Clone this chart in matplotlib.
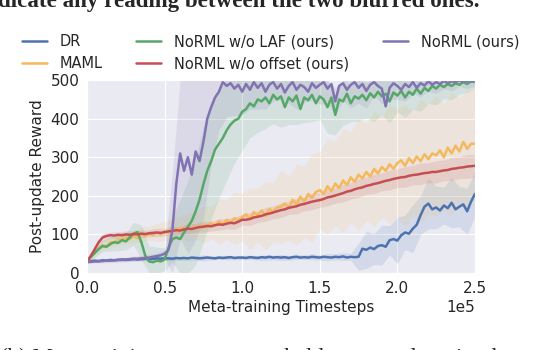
import numpy as np
import matplotlib
matplotlib.use("Agg")
import matplotlib.pyplot as plt
import seaborn as sns

# mean curves, one point every 2500 timesteps (0 .. 2.5e5)
dr = [30, 31, 32, 31, 33, 32, 34, 33, 34, 35,
      34, 35, 36, 35, 36, 37, 36, 37, 38, 37,
      38, 38, 37, 39, 38, 39, 38, 40, 39, 38,
      39, 40, 39, 38, 40, 39, 40, 41, 39, 40,
      40, 39, 41, 40, 39, 41, 40, 42, 40, 41,
      40, 41, 39, 41, 42, 40, 41, 40, 42, 41,
      40, 42, 41, 40, 42, 41, 43, 40, 42, 41,
      42, 63, 60, 66, 62, 70, 72, 68, 85, 88,
      84, 98, 105, 102, 115, 125, 150, 172, 180, 165,
      170, 162, 175, 168, 182, 165, 172, 178, 160, 185,
      205]
maml = [30, 42, 55, 62, 72, 68, 80, 78, 88, 85,
        92, 88, 95, 90, 100, 96, 103, 98, 105, 100,
        108, 104, 114, 106, 118, 110, 120, 113, 122, 116,
        126, 119, 130, 123, 134, 127, 138, 131, 142, 136,
        145, 152, 140, 158, 150, 162, 148, 166, 158, 170,
        172, 180, 168, 190, 178, 198, 185, 205, 195, 210,
        215, 205, 225, 212, 232, 220, 240, 228, 248, 236,
        255, 245, 262, 250, 270, 258, 275, 265, 282, 270,
        285, 292, 278, 298, 285, 302, 290, 308, 295, 310,
        305, 318, 300, 325, 310, 330, 315, 340, 322, 335,
        335]
no_laf = [30, 42, 52, 62, 70, 68, 75, 80, 78, 85,
          82, 92, 102, 106, 80, 45, 30, 28, 32, 30,
          35, 65, 88, 92, 88, 105, 120, 135, 160, 190,
          230, 265, 290, 320, 335, 350, 370, 385, 395, 400,
          418, 425, 440, 432, 450, 445, 455, 440, 462, 450,
          458, 430, 455, 445, 460, 425, 455, 448, 462, 440,
          458, 450, 430, 455, 410, 450, 445, 465, 440, 458,
          452, 462, 448, 466, 455, 470, 458, 465, 445, 468,
          460, 472, 455, 470, 462, 478, 465, 480, 472, 485,
          478, 488, 482, 490, 485, 492, 488, 495, 490, 497,
          495]
no_offset = [30, 45, 62, 80, 92, 96, 98, 97, 99, 98,
             100, 99, 101, 100, 102, 101, 103, 104, 105, 104,
             106, 108, 109, 111, 110, 113, 115, 114, 117, 119,
             120, 122, 121, 124, 126, 125, 128, 130, 129, 133,
             138, 138, 140, 144, 146, 148, 152, 154, 157, 160,
             163, 165, 169, 171, 173, 177, 179, 182, 185, 187,
             189, 192, 196, 198, 201, 204, 207, 211, 213, 217,
             220, 222, 226, 228, 231, 233, 236, 239, 241, 244,
             246, 248, 249, 252, 254, 255, 257, 259, 260, 262,
             262, 264, 266, 267, 270, 271, 273, 274, 276, 277,
             278]
norml = [28, 29, 30, 30, 31, 32, 32, 33, 34, 34,
         35, 36, 37, 37, 38, 39, 40, 42, 44, 46,
         50, 60, 110, 230, 310, 265, 300, 255, 315, 290,
         340, 400, 430, 455, 470, 495, 485, 492, 478, 488,
         470, 490, 475, 495, 480, 492, 470, 488, 495, 478,
         490, 468, 485, 495, 475, 488, 482, 470, 492, 480,
         488, 495, 478, 490, 445, 485, 492, 475, 488, 495,
         480, 490, 472, 488, 495, 485, 478, 432, 480, 492,
         485, 475, 490, 482, 495, 480, 492, 486, 497, 488,
         495, 490, 498, 492, 497, 495, 499, 496, 498, 497,
         499]

# spread of the shaded bands, one value every 5000 timesteps
dr_sd = [2, 3, 3, 3, 4, 4, 4, 4, 4, 5,
         5, 5, 5, 5, 6, 8, 5, 5, 6, 5,
         6, 5, 6, 7, 6, 8, 6, 7, 6, 8,
         7, 9, 8, 10, 9, 35, 48, 40, 52, 38,
         60, 45, 62, 50, 66, 55, 48, 65, 52, 60, 58]
maml_sd = [3, 10, 12, 14, 15, 15, 16, 20, 18, 24,
           25, 30, 27, 38, 33, 48, 42, 58, 52, 68,
           62, 80, 70, 88, 76, 95, 84, 105, 92, 115,
           100, 125, 108, 135, 118, 145, 125, 150, 132, 155,
           140, 158, 135, 160, 142, 155, 138, 158, 140, 150, 145]
no_laf_sd = [5, 12, 15, 18, 20, 22, 30, 45, 40, 35,
             30, 60, 100, 120, 140, 150, 150, 140, 130, 110,
             100, 90, 85, 80, 75, 80, 70, 75, 65, 70,
             60, 68, 52, 62, 48, 58, 46, 62, 48, 56,
             42, 52, 38, 46, 33, 42, 30, 36, 24, 22, 15]
no_offset_sd = [3, 8, 10, 8, 8, 9, 8, 10, 9, 11,
                10, 12, 10, 13, 11, 14, 12, 15, 13, 16,
                14, 17, 15, 18, 16, 19, 17, 20, 18, 21,
                19, 22, 20, 23, 21, 24, 22, 25, 23, 26,
                24, 27, 25, 28, 26, 29, 27, 30, 28, 31, 29]
norml_sd = [3, 4, 5, 5, 6, 6, 7, 7, 8, 8,
            10, 150, 220, 250, 230, 200, 150, 100, 80, 70,
            60, 50, 55, 45, 50, 40, 45, 50, 40, 45,
            50, 40, 35, 45, 60, 40, 45, 35, 40, 30,
            35, 45, 30, 35, 25, 30, 20, 25, 15, 20, 15]

labels = ["DR", "MAML", "NoRML w/o LAF (ours)", "NoRML w/o offset (ours)", "NoRML (ours)"]
colors = ["#4C72B0", "#F5B95C", "#55A868", "#C44E52", "#8172B2"]

sns.set_style("darkgrid")
plt.rcParams['font.family'] = ['DejaVu Sans']

steps = np.arange(len(dr)) * 2500
band_steps = steps[::2]

fig = plt.figure(figsize=(5.44, 3.5), dpi=100)
ax = fig.add_axes([0.16, 0.22, 0.713, 0.551])

series = [(dr, dr_sd), (maml, maml_sd), (no_laf, no_laf_sd),
          (no_offset, no_offset_sd), (norml, norml_sd)]
for (m, sd), c in zip(series, colors):
    mb = np.array(m)[::2]
    sd = np.array(sd)
    ax.fill_between(band_steps, np.clip(mb - sd, 0, 500), np.clip(mb + sd, 0, 500),
                    color=c, alpha=0.14, linewidth=0)
lines = []
for (m, sd), c, lab in zip(series, colors, labels):
    ln, = ax.plot(steps, m, color=c, linewidth=1.8, label=lab)
    lines.append(ln)

ax.set_xlim(0, 250000)
ax.set_ylim(0, 500)
ax.set_xticks([0, 50000, 100000, 150000, 200000, 250000])
ax.set_yticks([0, 100, 200, 300, 400, 500])
ax.ticklabel_format(axis='x', style='sci', scilimits=(0, 0))
ax.xaxis.get_offset_text().set_fontsize(11)
ax.tick_params(labelsize=11, pad=2, colors='#262626')
ax.set_xlabel("Meta-training Timesteps", fontsize=11, color='#262626', labelpad=3)
ax.set_ylabel("Post-update Reward", fontsize=11, color='#262626', labelpad=4)

fig.legend(lines, labels,
           ncol=3, loc='upper left', bbox_to_anchor=(0.016, 0.94), frameon=False,
           fontsize=10.5, handlelength=1.7, columnspacing=2.3, handletextpad=0.9,
           labelspacing=0.5)

fig.text(-0.004, 0.98, "dicate any reading between the two blurred ones.",
         family='Liberation Serif', weight='bold', fontsize=16.6, va='baseline')
fig.text(0.0, -0.04, "(b) Meta-training process on a held-out test domain, the",
         family='Liberation Serif', fontsize=16.6, va='baseline')

fig.savefig("out.png", dpi=100)
